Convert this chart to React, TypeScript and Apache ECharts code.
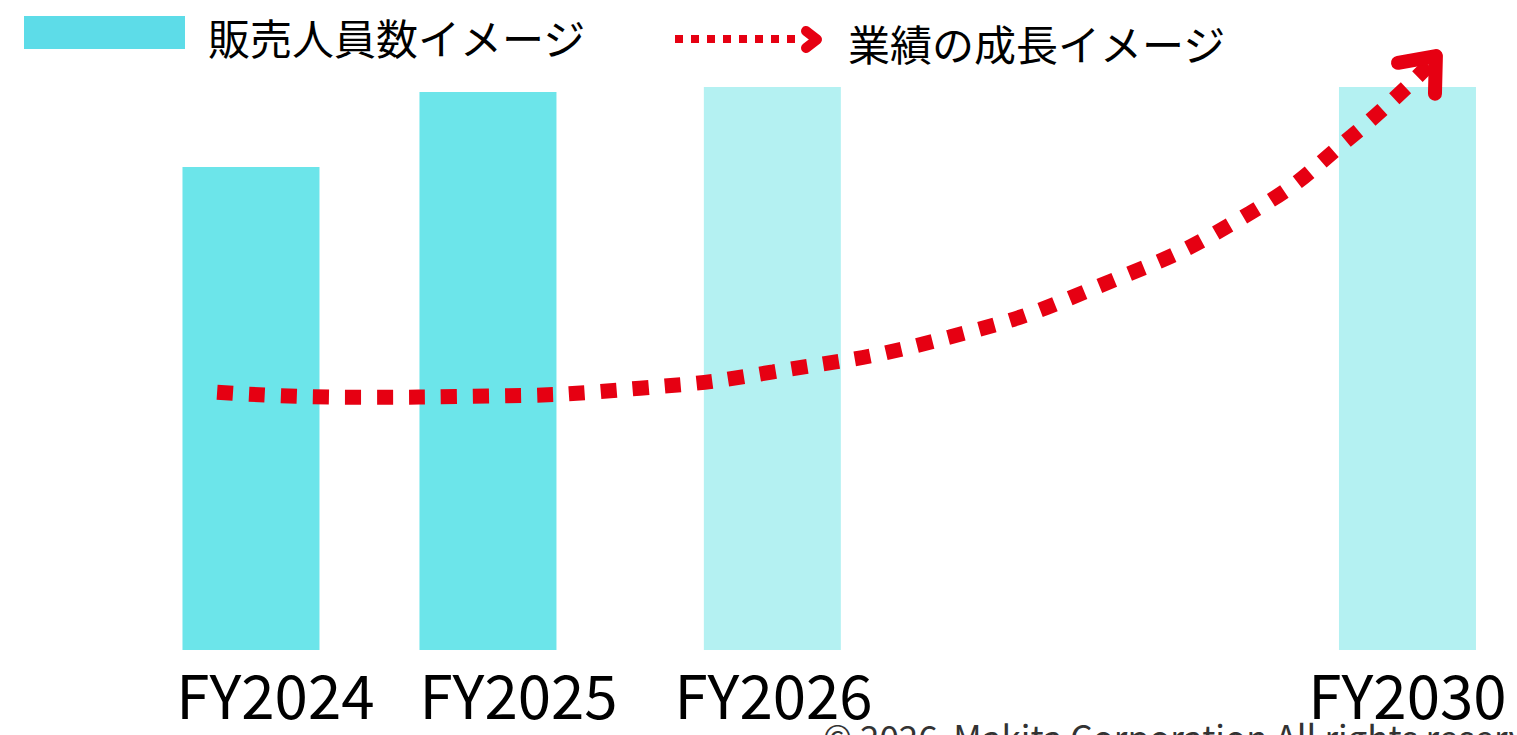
import React, { useEffect, useRef } from "react";
import * as echarts from "echarts";

// ---- data ----
const categories = ["FY2024", "FY2025", "FY2026", "FY2030"];
const headcount = [85.8, 99.1, 100, 100];
const growthX = [0.857, 1.418, 2.0, 2.641, 3.203, 3.949, 4.582, 5.215, 5.646, 5.983];
const growthY = [45.8, 44.9, 45.1, 46.5, 49.4, 55.6, 64.7, 77.6, 91.3, 104.4];
const arrowX = [5.84, 6.0, 5.996];
const arrowY = [104.3, 105.5, 98.8];
const legendNames = ["販売人員数イメージ", "業績の成長イメージ"];
const copyright = "© 2026  Makita Corporation All rights reserved.";

// ---- layout (axis slots) ----
const barSlots = [1, 2, 3.2, 5.88];
const labelSlots = [1.103, 2.129, 3.205, 5.88];
const barColors = ["#6ce5ea", "#6ce5ea", "#b4f1f2", "#b4f1f2"];
const RED = "#e60012";
const FONT = "'Noto Sans CJK JP', 'Noto Sans', sans-serif";

export default function App() {
  const ref = useRef<HTMLDivElement>(null);
  useEffect(() => {
    if (!ref.current) return;
    const chart = echarts.init(ref.current, undefined, { renderer: "svg" });
    chart.setOption({
      animation: false,
      backgroundColor: "#ffffff",
      textStyle: { fontFamily: FONT },
      grid: { left: 14, right: 10, top: 87, bottom: 85, containLabel: false },
      xAxis: {
        type: "value",
        min: 0,
        max: 6.3,
        axisLine: { show: false },
        axisTick: { show: false },
        splitLine: { show: false },
        axisLabel: {
          customValues: labelSlots,
          margin: 12,
          fontSize: 60,
          color: "#000",
          fontFamily: FONT,
          formatter: (v: number) => {
            const i = labelSlots.findIndex((s) => Math.abs(s - v) < 1e-6);
            return i >= 0 ? categories[i] : "";
          },
        },
      },
      yAxis: {
        type: "value",
        min: 0,
        max: 100,
        show: false,
        splitLine: { show: false },
      },
      graphic: [
        {
          type: "rect",
          shape: { x: 24, y: 16, width: 161, height: 33 },
          style: { fill: "#5ddce8" },
        },
        {
          type: "text",
          x: 208,
          y: 36,
          style: {
            text: legendNames[0],
            fontSize: 42,
            fontFamily: FONT,
            fill: "#000",
            verticalAlign: "middle",
          },
        },
        {
          type: "line",
          shape: { x1: 675, y1: 39, x2: 795, y2: 39 },
          style: { stroke: RED, lineWidth: 8, lineDash: [8, 8] },
        },
        {
          type: "polyline",
          shape: { points: [[806, 31], [817, 39.5], [806, 48]] },
          style: { stroke: RED, lineWidth: 10, lineCap: "round", lineJoin: "round", fill: null },
        },
        {
          type: "text",
          x: 848,
          y: 42,
          style: {
            text: legendNames[1],
            fontSize: 42,
            fontFamily: FONT,
            fill: "#000",
            verticalAlign: "middle",
          },
        },
        {
          type: "text",
          x: 823,
          y: 718,
          style: {
            text: copyright,
            fontSize: 35,
            fontFamily: FONT,
            fill: "#333",
            verticalAlign: "top",
          },
        },
      ],
      series: [
        {
          type: "bar",
          barWidth: 137,
          data: headcount.map((v, i) => ({
            value: [barSlots[i], v],
            itemStyle: { color: barColors[i] },
          })),
          z: 1,
        },
        {
          type: "line",
          data: growthX.map((x, i) => [x, growthY[i]]),
          smooth: 0.5,
          symbol: "none",
          clip: false,
          lineStyle: { color: RED, width: 15, type: [16, 16], cap: "butt" },
          z: 3,
        },
        {
          type: "line",
          data: arrowX.map((x, i) => [x, arrowY[i]]),
          symbol: "none",
          clip: false,
          lineStyle: { color: RED, width: 14, type: "solid", cap: "round", join: "round" },
          z: 4,
        },
      ],
    });
    return () => chart.dispose();
  }, []);
  return (
    <div
      ref={ref}
      style={{ position: "absolute", left: 0, top: 0, width: 1517, height: 735 }}
    />
  );
}
